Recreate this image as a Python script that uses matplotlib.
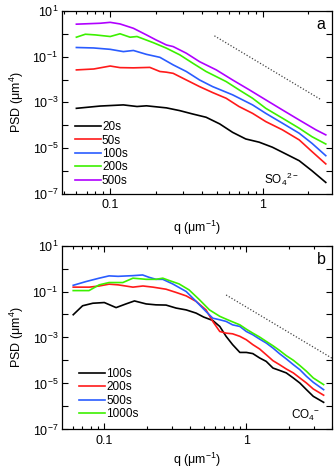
import numpy as np
import matplotlib
matplotlib.use("Agg")
import matplotlib.pyplot as plt
from matplotlib.ticker import FixedLocator, FuncFormatter, LogLocator, NullFormatter

plt.rcParams['font.family'] = ['Liberation Sans', 'DejaVu Sans']
plt.rcParams['mathtext.fontset'] = 'custom'
plt.rcParams['mathtext.rm'] = 'Liberation Sans'
plt.rcParams['mathtext.it'] = 'Liberation Sans:italic'
plt.rcParams['mathtext.default'] = 'regular'

# ---------------- Panel a (SO4 2-) ----------------
a_labels = ["20s", "50s", "100s", "200s", "500s"]
a_colors = ["#000000", "#ff1a1a", "#2a5cff", "#3cf000", "#b000ff"]

a_q_500 = [0.060, 0.086, 0.100, 0.116, 0.142, 0.173, 0.200, 0.234, 0.259, 0.316, 0.386, 0.497, 0.636, 0.818, 1.05, 1.35, 1.74, 2.24, 2.6]
a_y_500 = [0.42, 0.46, 0.50, 0.43, 0.24, -0.05, -0.27, -0.49, -0.56, -0.85, -1.22, -1.58, -2.02, -2.45, -2.89, -3.33, -3.77, -4.20, -4.42]

a_q_200 = [0.060, 0.0687, 0.080, 0.100, 0.116, 0.135, 0.150, 0.192, 0.234, 0.286, 0.349, 0.426, 0.577, 0.700, 0.860, 1.05, 1.35, 1.74, 2.11, 2.6]
a_y_200 = [-0.15, -0.02, -0.05, -0.12, 0.00, -0.15, -0.12, -0.39, -0.63, -0.92, -1.29, -1.65, -2.09, -2.45, -2.82, -3.26, -3.69, -4.13, -4.50, -4.82]

a_q_100 = [0.060, 0.0777, 0.100, 0.122, 0.142, 0.173, 0.212, 0.259, 0.316, 0.386, 0.470, 0.636, 0.860, 1.05, 1.35, 1.74, 2.11, 2.6]
a_y_100 = [-0.60, -0.62, -0.68, -0.78, -0.73, -0.90, -1.03, -1.36, -1.65, -2.02, -2.31, -2.67, -3.11, -3.48, -3.91, -4.35, -4.79, -5.33]

a_q_50 = [0.060, 0.078, 0.100, 0.116, 0.142, 0.182, 0.212, 0.234, 0.259, 0.316, 0.386, 0.470, 0.577, 0.700, 0.860, 1.05, 1.35, 1.74, 2.11, 2.6]
a_y_50 = [-1.58, -1.54, -1.41, -1.48, -1.49, -1.47, -1.65, -1.68, -1.73, -2.02, -2.31, -2.57, -2.82, -3.18, -3.48, -3.84, -4.20, -4.64, -5.15, -5.69]

a_q_20 = [0.060, 0.086, 0.122, 0.150, 0.173, 0.234, 0.286, 0.349, 0.426, 0.523, 0.636, 0.776, 0.950, 1.16, 1.35, 1.74, 2.11, 2.6]
a_y_20 = [-3.26, -3.16, -3.11, -3.18, -3.15, -3.24, -3.36, -3.51, -3.65, -3.94, -4.31, -4.60, -4.74, -4.96, -5.18, -5.55, -5.99, -6.50]

a_q = [a_q_20, a_q_50, a_q_100, a_q_200, a_q_500]
a_y = [a_y_20, a_y_50, a_y_100, a_y_200, a_y_500]

a_ref_q = [0.483, 2.39]
a_ref_y = [-0.09, -2.86]

# ---------------- Panel b (CO4 -) ----------------
b_labels = ["100s", "200s", "500s", "1000s"]
b_colors = ["#000000", "#ff1a1a", "#2a5cff", "#3cf000"]

b_q_100 = [0.0604, 0.0703, 0.083, 0.100, 0.121, 0.142, 0.163, 0.197, 0.231, 0.272, 0.320, 0.377, 0.443, 0.50, 0.58, 0.65, 0.72, 0.80, 0.90, 1.0, 1.11, 1.24, 1.38, 1.54, 1.71, 1.91, 2.14, 2.38, 2.65, 2.96, 3.5]
b_y_100 = [-2.01, -1.62, -1.51, -1.48, -1.70, -1.54, -1.41, -1.54, -1.58, -1.59, -1.72, -1.80, -1.94, -2.11, -2.26, -2.52, -2.95, -3.31, -3.65, -3.65, -3.70, -3.89, -4.04, -4.33, -4.43, -4.54, -4.76, -4.98, -5.27, -5.56, -5.82]

b_q_200 = [0.0604, 0.0784, 0.092, 0.108, 0.125, 0.159, 0.187, 0.220, 0.272, 0.320, 0.377, 0.443, 0.52, 0.58, 0.65, 0.72, 0.80, 0.90, 1.0, 1.11, 1.24, 1.38, 1.54, 1.71, 1.91, 2.14, 2.38, 2.65, 2.96, 3.5]
b_y_200 = [-0.81, -0.81, -0.76, -0.68, -0.71, -0.81, -0.76, -0.81, -0.90, -1.04, -1.19, -1.43, -1.80, -2.30, -2.74, -2.81, -2.84, -2.95, -3.10, -3.31, -3.50, -3.75, -4.01, -4.18, -4.37, -4.54, -4.76, -4.98, -5.24, -5.51]

b_q_500 = [0.0604, 0.074, 0.092, 0.108, 0.125, 0.159, 0.186, 0.206, 0.231, 0.258, 0.303, 0.377, 0.443, 0.52, 0.58, 0.65, 0.72, 0.80, 0.90, 1.0, 1.11, 1.24, 1.38, 1.54, 1.71, 1.91, 2.14, 2.38, 2.65, 2.96, 3.5]
b_y_500 = [-0.73, -0.57, -0.42, -0.32, -0.34, -0.31, -0.28, -0.38, -0.47, -0.47, -0.67, -1.00, -1.43, -1.87, -2.16, -2.23, -2.30, -2.45, -2.52, -2.74, -2.88, -3.07, -3.24, -3.46, -3.70, -3.93, -4.18, -4.40, -4.69, -4.95, -5.27]

b_q_1000 = [0.0604, 0.078, 0.092, 0.108, 0.135, 0.159, 0.197, 0.231, 0.258, 0.286, 0.336, 0.395, 0.468, 0.55, 0.65, 0.72, 0.80, 0.90, 1.0, 1.11, 1.24, 1.38, 1.54, 1.71, 1.91, 2.14, 2.38, 2.65, 2.96, 3.5]
b_y_1000 = [-0.96, -0.96, -0.71, -0.61, -0.61, -0.42, -0.47, -0.47, -0.42, -0.52, -0.67, -0.93, -1.36, -1.80, -2.08, -2.20, -2.32, -2.45, -2.64, -2.81, -2.98, -3.17, -3.36, -3.56, -3.79, -3.99, -4.22, -4.47, -4.76, -5.05]

b_q = [b_q_100, b_q_200, b_q_500, b_q_1000]
b_y = [b_y_100, b_y_200, b_y_500, b_y_1000]

b_ref_q = [0.72, 4.08]
b_ref_y = [-1.15, -3.93]

y_decades = list(range(-7, 2))
x_major = [0.1, 1]

FS = 9
LFS = 8.5

fig = plt.figure(figsize=(3.35, 4.74), dpi=100)
ax_a = fig.add_axes([0.186, 0.591, 0.806, 0.386])
ax_b = fig.add_axes([0.186, 0.094, 0.806, 0.388])


def yfmt(v, pos):
    e = int(round(np.log10(v)))
    if e % 2 == 0:
        return ""
    return r"$10^{%d}$" % e


def xfmt(v, pos):
    return "%g" % v


def style(ax, xlim, xpad):
    ax.set_xscale("log")
    ax.set_yscale("log")
    ax.set_xlim(*xlim)
    ax.set_ylim(1e-7, 1e1)
    ax.yaxis.set_major_locator(FixedLocator([10.0 ** e for e in y_decades]))
    ax.yaxis.set_major_formatter(FuncFormatter(yfmt))
    ax.yaxis.set_minor_locator(FixedLocator([]))
    ax.xaxis.set_major_locator(FixedLocator(x_major))
    ax.xaxis.set_major_formatter(FuncFormatter(xfmt))
    ax.xaxis.set_minor_locator(LogLocator(base=10, subs=np.arange(2, 10)))
    ax.xaxis.set_minor_formatter(NullFormatter())
    ax.tick_params(which="both", direction="in", top=True, right=True,
                   labelsize=FS, width=0.8)
    ax.tick_params(axis="y", pad=3)
    ax.tick_params(axis="x", pad=4)
    ax.tick_params(which="major", length=4.5)
    ax.tick_params(which="minor", length=2.5)
    for s in ax.spines.values():
        s.set_linewidth(0.9)
    ax.set_xlabel(r"q ($\mu$m$^{-1}$)", fontsize=FS, labelpad=xpad)
    ax.set_ylabel(r"PSD ($\mu$m$^{4}$)", fontsize=FS, labelpad=5)


for qs, ys, lab, col in zip(a_q, a_y, a_labels, a_colors):
    ax_a.plot(qs, 10.0 ** np.array(ys), color=col, lw=1.2, label=lab)
ax_a.plot(a_ref_q, 10.0 ** np.array(a_ref_y), color="#444444", lw=0.9, ls=(0, (1, 1.5)))
style(ax_a, (0.0485, 2.87), 5)
ax_a.text(0.975, 0.925, "a", transform=ax_a.transAxes, fontsize=11.5, ha="right", va="center")
ax_a.text(0.81, 0.08, r"SO$_4$$^{2-}$", transform=ax_a.transAxes, fontsize=LFS, ha="center", va="center")
ax_a.legend(loc="lower left", bbox_to_anchor=(0.02, 0.0), frameon=False, fontsize=LFS,
            handlelength=2.2, handletextpad=0.1, labelspacing=0.12, borderaxespad=0.2)

for qs, ys, lab, col in zip(b_q, b_y, b_labels, b_colors):
    ax_b.plot(qs, 10.0 ** np.array(ys), color=col, lw=1.2, label=lab)
ax_b.plot(b_ref_q, 10.0 ** np.array(b_ref_y), color="#444444", lw=0.9, ls=(0, (1, 1.5)))
style(ax_b, (0.0506, 4.03), 3)
ax_b.text(0.975, 0.925, "b", transform=ax_b.transAxes, fontsize=11.5, ha="right", va="center")
ax_b.text(0.90, 0.075, r"CO$_4$$^{-}$", transform=ax_b.transAxes, fontsize=LFS, ha="center", va="center")
ax_b.legend(loc="lower left", bbox_to_anchor=(0.035, 0.012), frameon=False, fontsize=LFS,
            handlelength=2.2, handletextpad=0.1, labelspacing=0.12, borderaxespad=0.2)

fig.savefig("out.png", dpi=100)
